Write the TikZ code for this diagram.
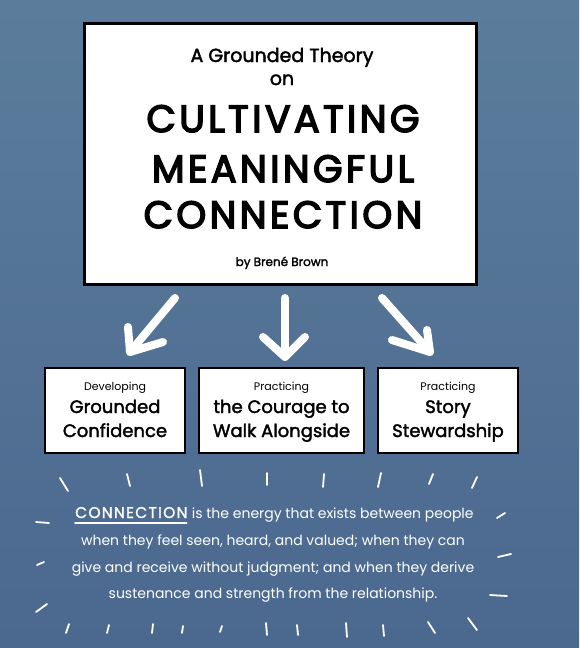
\documentclass[tikz,border=0pt]{standalone}
\usepackage{fontspec}
\setmainfont{Poppins}
\newfontfamily\headfont[FakeBold=4, LetterSpace=9]{Poppins}
\newfontfamily\boxfont[FakeBold=2]{Poppins}
\newfontfamily\keyfont[FakeBold=1.5, LetterSpace=8]{Poppins}
\usetikzlibrary{calc}
\definecolor{bgtop}{RGB}{91,125,155}
\definecolor{bgbot}{RGB}{75,104,143}
\begin{document}
\begin{tikzpicture}[x=1pt,y=-1pt,
  panel/.style={draw=black, line width=3pt, fill=white, inner sep=0pt},
  stagebox/.style={draw=black, line width=2.5pt, fill=white, inner sep=0pt,
    minimum height=85pt},
  txt/.style={anchor=base, inner sep=0pt},
  wtxt/.style={anchor=base, inner sep=0pt, text=white},
  bigarrow/.style={draw=white, line width=8pt, line cap=round, line join=round},
  ray/.style={draw=white, line width=1.8pt, line cap=round},
  ]
% background
\shade[top color=bgtop, bottom color=bgbot] (0,0) rectangle (579,648);
\useasboundingbox (0,0) rectangle (579,648);

% title panel
\node[panel, minimum width=392pt, minimum height=261pt] (title) at (280,153.5) {};
\node[txt] (t1) at (282,62) {\fontsize{19}{22}\boxfont A Grounded Theory};
\node[txt] (t2) at (282,85) {\fontsize{19}{22}\boxfont on};
\node[txt] (t3) at (283,132) {\fontsize{38}{40}\headfont CULTIVATING};
\node[txt] (t4) at (283,182) {\fontsize{38}{40}\headfont MEANINGFUL};
\node[txt] (t5) at (283,228) {\fontsize{38}{40}\headfont CONNECTION};
\node[txt] (t6) at (282,266) {\fontsize{12}{14}\boxfont by Brené Brown};

% three practice boxes
\node[stagebox, minimum width=140pt] (b1) at (115,410.5) {};
\node[stagebox, minimum width=165pt] (b2) at (281.5,410.5) {};
\node[stagebox, minimum width=140pt] (b3) at (448,410.5) {};

\node[txt] (b1a) at (115,390) {\fontsize{11}{13}\selectfont Developing};
\node[txt] (b1b) at (115,413) {\fontsize{18}{20}\boxfont Grounded};
\node[txt] (b1c) at (115,437) {\fontsize{18}{20}\boxfont Confidence};
\node[txt] (b2a) at (281.5,390) {\fontsize{11}{13}\selectfont Practicing};
\node[txt] (b2b) at (281.5,413) {\fontsize{18}{20}\boxfont the Courage to};
\node[txt] (b2c) at (281.5,437) {\fontsize{18}{20}\boxfont Walk Alongside};
\node[txt] (b3a) at (448,390) {\fontsize{11}{13}\selectfont Practicing};
\node[txt] (b3b) at (448,413) {\fontsize{18}{20}\boxfont Story};
\node[txt] (b3c) at (448,437) {\fontsize{18}{20}\boxfont Stewardship};

% arrows from the title to the boxes
\coordinate (a1s) at (175,298); \coordinate (a1t) at (130,352);
\coordinate (a1l) at (128,327); \coordinate (a1r) at (163,342);
\coordinate (a2s) at (285,298); \coordinate (a2t) at (285,357);
\coordinate (a2l) at (263,337); \coordinate (a2r) at (305,337);
\coordinate (a3s) at (382,298); \coordinate (a3t) at (430,352);
\coordinate (a3l) at (392,340); \coordinate (a3r) at (427,330);
\draw[bigarrow] (a1s) -- (a1t); \draw[bigarrow] (a1l) -- (a1t) -- (a1r);
\draw[bigarrow] (a2s) -- (a2t); \draw[bigarrow] (a2l) -- (a2t) -- (a2r);
\draw[bigarrow] (a3s) -- (a3t); \draw[bigarrow] (a3l) -- (a3t) -- (a3r);

% definition
\node[wtxt, anchor=base west] (conn) at (75,518) {\fontsize{15.5}{17}\keyfont CONNECTION};
\node[wtxt, anchor=base west] (rest) at ($(conn.base east)+(4,0)$) {\fontsize{14}{16}\selectfont is the energy that exists between people};
\draw[white, line width=1.5pt, line cap=round] ($(conn.base west)+(0,5)$) -- ($(conn.base east)+(-1,5)$);
\node[wtxt] (p2) at (273,545) {\fontsize{14}{16}\selectfont when they feel seen, heard, and valued; when they can};
\node[wtxt] (p3) at (273,572) {\fontsize{14}{16}\selectfont give and receive without judgment; and when they derive};
\node[wtxt] (p4) at (273,598) {\fontsize{14}{16}\selectfont sustenance and strength from the relationship.};

% rays around the definition
\foreach \ax/\ay/\bx/\by in {
  60/478/68/491, 127/474/130/486, 200/470/202/486, 267/473/267/485,
  324/474/323/487, 381/473/378/487, 433/474/429/484, 477/477/472/488,
  36/522/49/523, 37/565/44/562, 36/612/47/604,
  497/518/505/513, 498/557/511/554, 490/595/507/596,
  66/633/69/624, 107/633/109/625, 152/633/153/624, 182/633/183/626,
  220/632/222/626, 266/623/267/635, 297/625/298/635, 346/623/347/637,
  383/625/384/636, 428/622/435/633, 468/618/477/630}
  \draw[ray] (\ax,\ay) -- (\bx,\by);
\end{tikzpicture}
\end{document}
